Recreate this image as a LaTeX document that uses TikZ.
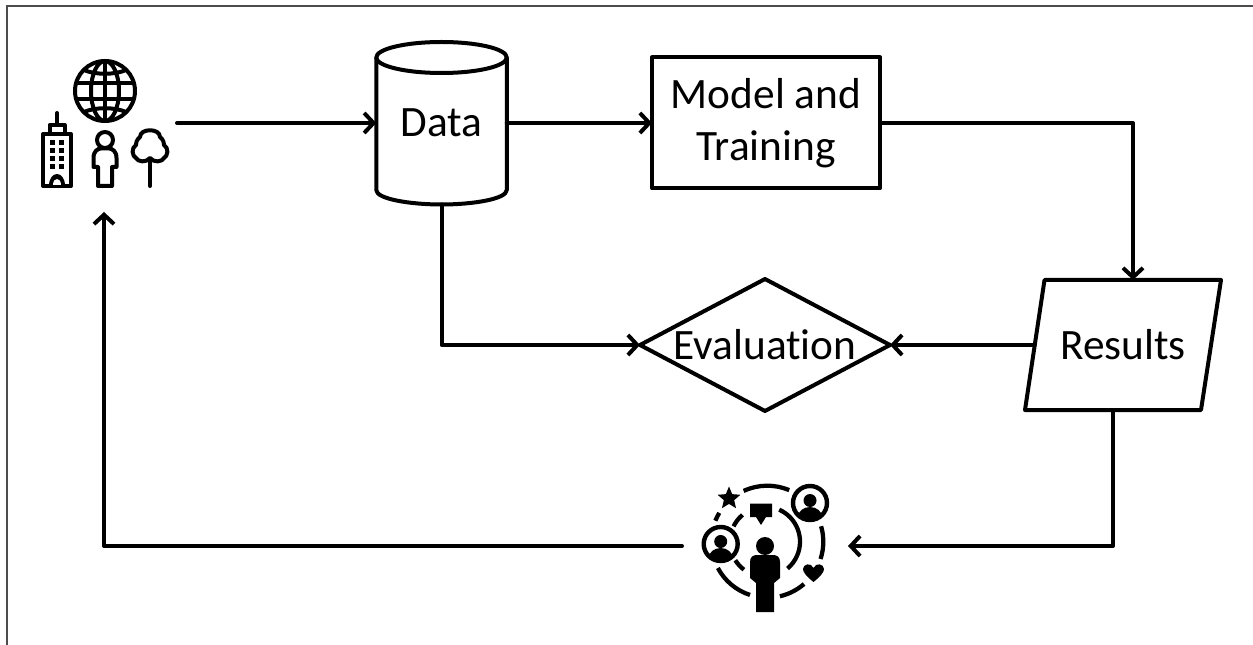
\documentclass[tikz,border=0pt]{standalone}
\usepackage{fontspec}
\setmainfont[Ligatures=NoCommon,Contextuals=NoAlternate]{Carlito}
\usetikzlibrary{arrows.meta,shapes.geometric}
\tikzset{
  outline/.style={draw=black,line width=3pt,line join=round},
  label text/.style={font=\fontsize{32.5}{39}\selectfont,align=center,text=black},
  ghost/.style={inner sep=0pt,outer sep=0pt},
  link/.style={draw=black,line width=3pt,line cap=round,line join=round,-{Straight Barb[length=7pt,width=15pt,line width=3pt]}},
  icon/.style={draw=black,line width=3pt,line cap=round,line join=round},
  iconfill/.style={fill=black},
  frame/.style={draw=black!70,line width=1.5pt}
}
\begin{document}
\begin{tikzpicture}[x=0.75pt,y=-0.75pt]
\useasboundingbox (0,0) rectangle (1253,645);
% frame
\draw[frame] (7,645) -- (7,6.5) -- (1253,6.5);
% shapes
\node[ghost,minimum width=130.5*0.75pt,minimum height=163*0.75pt,label text] (data) at (441.5,123) {Data};
\node[outline,ghost,minimum width=228*0.75pt,minimum height=131*0.75pt,label text] (model) at (766,123) {\raisebox{-1.5pt}{Model and}\\\raisebox{-1.5pt}{Training}};
\node[outline,ghost,shape=diamond,aspect=1.894,minimum width=250*0.75pt,minimum height=132*0.75pt,label text] (eval) at (765,345) {Evaluation};
\node[ghost,minimum width=196*0.75pt,minimum height=130*0.75pt,label text] (results) at (1123,345) {Results};
\node[ghost,minimum width=146*0.75pt,minimum height=152*0.75pt] (source) at (104,136) {};
\node[ghost,minimum width=166*0.75pt,minimum height=140*0.75pt] (people) at (765,546) {};
\draw[outline] (441.5,57.5) ellipse [x radius=65.25,y radius=15.5];
\draw[outline] (376.25,57.5) -- (376.25,190) .. controls (376.25,199) and (410,204.5) .. (441.5,204.5) .. controls (473,204.5) and (506.75,199) .. (506.75,190) -- (506.75,57.5);
\draw[outline] (1044.5,280) -- (1221,280) -- (1201,410) -- (1025,410) -- cycle;
% connector ends
\coordinate (resultsTop) at (1133,280);
\coordinate (resultsLeft) at (1034.5,345);
\coordinate (resultsBottom) at (1113,410);
% connectors
\draw[link] (source.east |- data.west) -- (data.west);
\draw[link] (data.east |- model.west) -- (model.west);
\draw[link] (model.east) -| (resultsTop);
\draw[link] (data.south) |- (eval.west);
\draw[link] (resultsLeft) -- (eval.east);
\draw[link] (resultsBottom) |- (people.east);
\draw[link] (people.west) -| (source.south);
% globe
\draw[icon] (105,91) circle [radius=30];
\draw[icon] (105,91) ellipse [x radius=14,y radius=30];
\draw[icon] (105,61) -- (105,121);
\draw[icon] (76.5,83) -- (133.5,83) (76.5,99) -- (133.5,99);
\draw[icon] (84,70) .. controls (95,75) and (115,75) .. (126,70);
\draw[icon] (84,112) .. controls (95,107) and (115,107) .. (126,112);
% building
\draw[icon] (43,134) rectangle (71,186);
\draw[icon] (49.5,134) -- (49.5,125) -- (64.5,125) -- (64.5,134);
\draw[icon] (57,124) -- (57,113);
\foreach \wy in {140,148,156,164}{
  \fill[iconfill] (50,\wy) rectangle (55,\wy+5);
  \fill[iconfill] (59,\wy) rectangle (64,\wy+5);
}
\fill[iconfill] (49,186) .. controls (49,170) and (65,170) .. (65,186) -- cycle;
\fill[white] (53,185) .. controls (53,177) and (61,177) .. (61,185) -- cycle;
% person outline
\draw[icon] (105,140) circle [radius=8];
\draw[icon] (98,186) -- (98,167) -- (93.5,167) -- (93.5,158) .. controls (93.5,151) and (98,148.5) .. (101,148.5) -- (109,148.5) .. controls (112,148.5) and (116.5,151) .. (116.5,158) -- (116.5,167) -- (112,167) -- (112,186) -- cycle;
% tree
\draw[icon] (150,186) -- (150,161);
\draw[icon] (150,158) .. controls (146,163) and (138,162) .. (136,158) .. controls (132,156) and (131,148) .. (136,145) .. controls (136,140) and (139,138) .. (140,137) .. controls (140,128) and (160,128) .. (160,137) .. controls (161,138) and (164,140) .. (164,145) .. controls (169,148) and (168,156) .. (164,158) .. controls (162,162) and (154,163) .. (150,158) -- cycle;
% community icon: outer arcs
\foreach \a/\b in {-115/-67,-158/-149,-16/18,49/77,108/152}{
  \draw[icon,line width=3.2pt,line cap=butt] ([shift={(767.3,541.7)}]\a:56) arc [start angle=\a,end angle=\b,radius=56];
}
\foreach \a/\b in {-66/50,-154/-130,127/148}{
  \draw[icon,line width=3.2pt,line cap=butt] ([shift={(765,541.7)}]\a:35) arc [start angle=\a,end angle=\b,radius=35];
}
% central person
\fill[iconfill] (765,546) circle [radius=9];
\fill[iconfill] (756,612) -- (756,583) -- (750,578) -- (750,562) .. controls (750,557) and (753,555) .. (757,555) -- (773,555) .. controls (777,555) and (780,557) .. (780,562) -- (780,578) -- (774,583) -- (774,612) -- cycle;
% avatars
\foreach \cx/\cy in {720.7/544,810/503}{
  \fill[white] (\cx,\cy) circle [radius=17];
  \draw[icon,line width=3.3pt] (\cx,\cy) circle [radius=17];
  \fill[iconfill] (\cx,\cy-2.5) circle [radius=6.5];
  \begin{scope}
    \clip (\cx,\cy) circle [radius=16];
    \fill[iconfill] (\cx,\cy+14) ellipse [x radius=12,y radius=10];
  \end{scope}
}
% star
\fill[iconfill] ([shift={(729,498.5)}]-90:12) -- ([shift={(729,498.5)}]-54:5.4) -- ([shift={(729,498.5)}]-18:12) -- ([shift={(729,498.5)}]18:5.4) -- ([shift={(729,498.5)}]54:12) -- ([shift={(729,498.5)}]90:5.4) -- ([shift={(729,498.5)}]126:12) -- ([shift={(729,498.5)}]162:5.4) -- ([shift={(729,498.5)}]198:12) -- ([shift={(729,498.5)}]234:5.4) -- cycle;
% bubble
\fill[iconfill] (750,503.5) -- (772,503.5) -- (772,517) -- (766,517) -- (761,525) -- (756,517) -- (750,517) -- cycle;
% heart
\fill[iconfill] (813.5,582) .. controls (806,576) and (803,572) .. (803,569) .. controls (803,564) and (811,562) .. (813.5,568) .. controls (816,562) and (824,564) .. (824,569) .. controls (824,572) and (821,576) .. (813.5,582) -- cycle;
\end{tikzpicture}
\end{document}
